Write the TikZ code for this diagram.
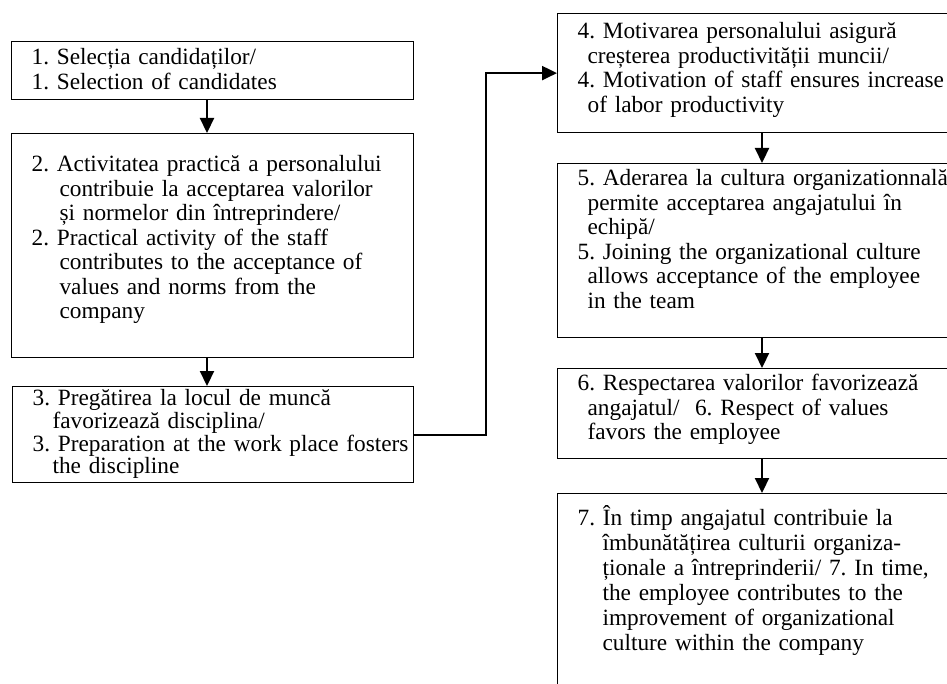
\documentclass[tikz,border=0pt]{standalone}
\usepackage{fontspec}
\setmainfont{Liberation Serif}
\usetikzlibrary{arrows.meta}

\newcommand{\stagefont}[1]{\fontsize{23.3}{#1}\selectfont\frenchspacing}
\newcommand{\hg}[1]{\hspace*{#1pt}}
\tikzset{
  stagebox/.style={draw, line width=1.2pt, rectangle, anchor=north west, align=left,
    inner xsep=20pt, inner ysep=0pt, font=\stagefont{24.5},
    execute at begin node={\rightskip=-24pt plus 2em\relax}},
  flowarrow/.style={line width=2.2pt, -{Triangle[length=15pt,width=14pt]}},
}

\begin{document}
\begin{tikzpicture}[x=1pt,y=-1pt]
      \useasboundingbox (0,0) rectangle (947,684);
      \clip (0,0) rectangle (947,684);
      % left column
      \node[stagebox, text width=362pt, text height=23pt, text depth=35pt] (s1) at (11,41) {1. Selecția candidaților/\\1. Selection of candidates};
      \node[stagebox, text width=362pt, text height=38pt, text depth=186pt] (s2) at (11,133) {2. Activitatea practică a personalului\\\hg{28}contribuie la acceptarea valorilor\\\hg{28}și normelor din întreprindere/\\2. Practical activity of the staff\\\hg{28}contributes to the acceptance of\\\hg{28}values and norms from the\\\hg{28}company};
      \node[stagebox, text width=361pt, text height=19pt, text depth=77pt, font=\stagefont{22.7}] (s3) at (12,386) {3. Pregătirea la locul de muncă\\\hg{20}favorizează disciplina/\\3. Preparation at the work place fosters\\\hg{20}the discipline};
      % right column
      \node[stagebox, text width=390pt, text height=25pt, text depth=94pt] (s4) at (557,13) {4. Motivarea personalului asigură\\\hg{10}creșterea productivității muncii/\\4. Motivation of staff ensures increase\\\hg{10}of labor productivity};
      \node[stagebox, text width=390pt, text height=22pt, text depth=152pt] (s5) at (557,163) {5. Aderarea la cultura organizationnală\\\hg{10}permite acceptarea angajatului în\\\hg{10}echipă/\\5. Joining the organizational culture\\\hg{10}allows acceptance of the employee\\\hg{10}in the team};
      \node[stagebox, text width=390pt, text height=22pt, text depth=68pt] (s6) at (557,368) {6. Respectarea valorilor favorizează\\\hg{10}angajatul/\ \ 6. Respect of values\\\hg{10}favors the employee};
      \node[stagebox, text width=390pt, text height=32pt, text depth=250pt, font=\stagefont{25}] (s7) at (557,493) {7. În timp angajatul contribuie la\\\hg{25}îmbunătățirea culturii organiza-\\\hg{25}ționale a întreprinderii/ 7. In time,\\\hg{25}the employee contributes to the\\\hg{25}improvement of organizational\\\hg{25}culture within the company};
      \foreach \src/\dst/\xpos in {s1/s2/207, s2/s3/207, s4/s5/762, s5/s6/762, s6/s7/762}
        \draw[flowarrow] (\src.south -| \xpos,0) -- (\dst.north -| \xpos,0);
      \draw[flowarrow] (s3.east) -- ++(72,0) |- (s4.west);
\end{tikzpicture}
\end{document}
